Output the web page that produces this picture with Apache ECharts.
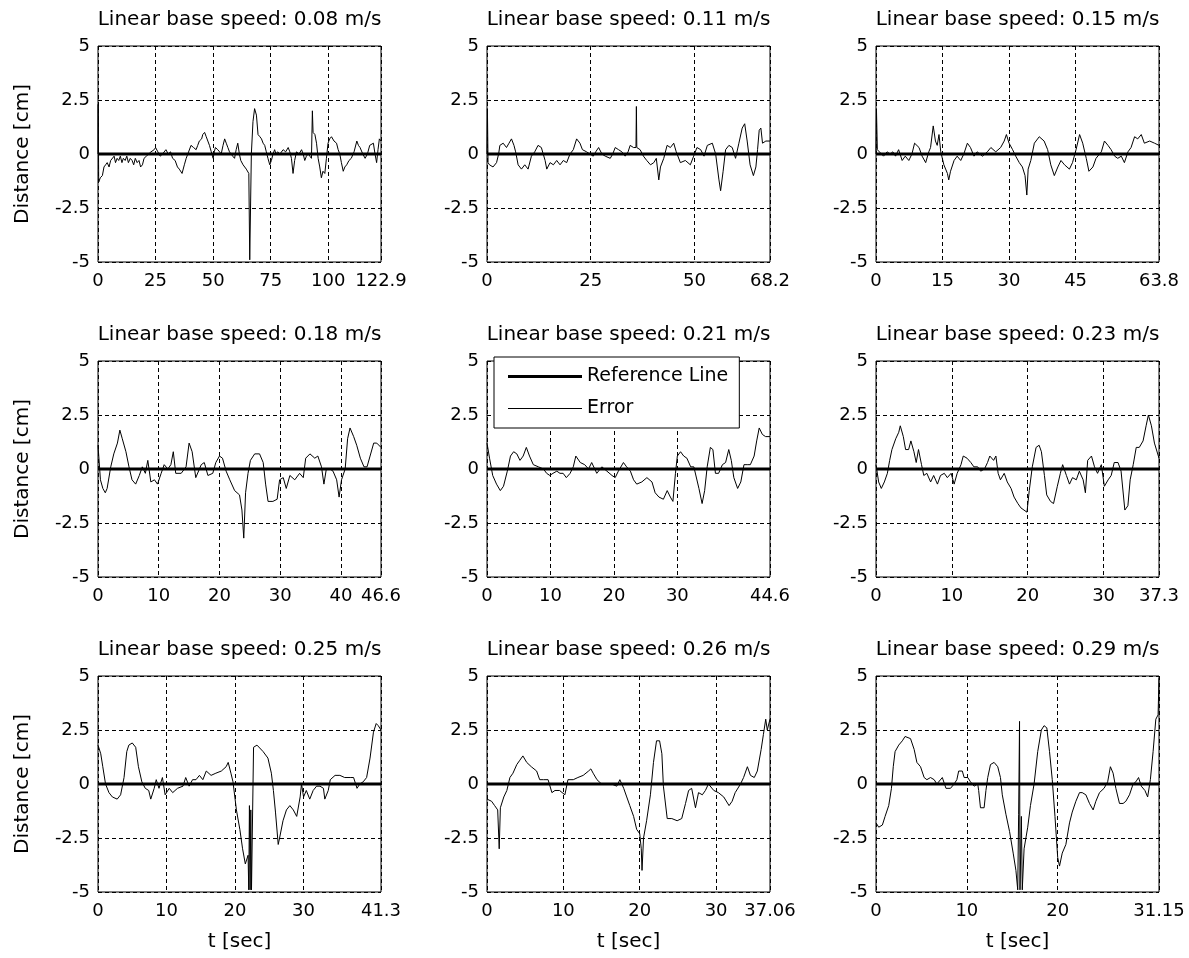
<!DOCTYPE html>
<html>
<head>
<meta charset="utf-8">
<title>Tracking error per linear base speed</title>
<script src="https://cdn.jsdelivr.net/npm/echarts@6.0.0/dist/echarts.min.js"></script>
<style>
  html, body { margin: 0; padding: 0; background: #fff; }
  #chart { width: 1189px; height: 958px; }
</style>
</head>
<body>
<div id="chart"></div>
<script>
// one panel per base speed
const speeds = ['0.08', '0.11', '0.15', '0.18', '0.21', '0.23', '0.25', '0.26', '0.29'];
const tEnd = [122.9, 68.2, 63.8, 46.6, 44.6, 37.3, 41.3, 37.06, 31.15];
const xTicks = [
  [0, 25, 50, 75, 100, 122.9],
  [0, 25, 50, 68.2],
  [0, 15, 30, 45, 63.8],
  [0, 10, 20, 30, 40, 46.6],
  [0, 10, 20, 30, 44.6],
  [0, 10, 20, 30, 37.3],
  [0, 10, 20, 30, 41.3],
  [0, 10, 20, 30, 37.06],
  [0, 10, 20, 31.15]
];
const yTicks = [-5, -2.5, 0, 2.5, 5];

// error traces [t, cm]
const err1 = [[0,0],[0.1,2.3],[0.3,-1.3],[1,-1.1],[1.9,-1.0],[2.6,-0.6],[3.3,-0.5],[4,-0.4],[4.8,-0.6],[5.5,-0.3],[6.2,-0.3],[7,-0.1],[7.6,-0.4],[8.3,-0.2],[9,-0.3],[9.7,-0.1],[10.4,-0.4],[11,-0.2],[11.8,-0.3],[12.5,-0.1],[13.2,-0.4],[14,-0.2],[14.8,-0.3],[15.5,-0.5],[16.2,-0.2],[17,-0.4],[17.8,-0.3],[18.5,-0.6],[19.3,-0.5],[20,-0.2],[21,-0.1],[22,0],[23,0.1],[24.4,0.2],[25,0.3],[26,0.1],[27,-0.1],[28,0],[29.5,0.2],[30.5,0],[31.5,0.1],[32.4,-0.2],[33.5,-0.3],[34.5,-0.6],[35.3,-0.7],[36.5,-0.9],[37.5,-0.5],[38.3,-0.2],[39,0],[40.4,0.4],[41.5,0.3],[42.6,0.2],[43.3,0.4],[44,0.6],[45,0.7],[45.5,0.9],[46.3,1.0],[47,0.8],[47.7,0.6],[48.4,0.4],[49.2,0.1],[50,-0.2],[50.5,0.1],[51,0.3],[52,0.2],[52.8,0.1],[53.5,0],[54.3,0.4],[55,0.7],[55.7,0.5],[56.4,0.3],[57.1,0.1],[57.8,0],[58.5,-0.1],[59.3,-0.2],[60,0.2],[60.7,0.5],[61.4,0],[62,-0.3],[63,-0.5],[64.4,-0.7],[65.5,-0.9],[65.9,-4.9],[66.3,-4.9],[66.6,0],[67.3,1.5],[68,2.1],[68.8,1.8],[69.5,0.9],[70.3,0.8],[71,0.7],[71.7,0.5],[72.4,0.4],[73.1,0.1],[73.8,-0.2],[74.6,-0.5],[75.3,-0.3],[76,0],[76.7,0.2],[77.3,0],[78,0.1],[79,0],[80.4,0.2],[81.5,0.1],[82.6,0.3],[83.3,0.1],[84,-0.2],[84.7,-0.9],[85.4,-0.3],[86.2,0.1],[87.3,0],[88.4,0.2],[89.1,0],[89.8,-0.3],[90.5,-0.1],[91.3,0],[92,-0.1],[92.7,-0.2],[93.1,2.0],[93.4,1.0],[94.2,0.9],[94.9,0.5],[95.6,-0.2],[96.3,-0.6],[97,-1.1],[97.7,-0.8],[98.5,-0.9],[99.2,-0.2],[99.9,0.5],[100.6,0.7],[101.4,0.8],[102.5,0.6],[103.6,0.5],[104.3,0.2],[105,0],[105.7,-0.4],[106.5,-0.8],[107.2,-0.6],[108,-0.5],[109,-0.3],[110,-0.2],[111.2,0.1],[112.4,0.6],[113.1,0.4],[113.8,0.3],[115,0],[116,-0.2],[117,0],[118,0.4],[119.6,0.5],[120.3,0],[121,-0.4],[121.6,0.2],[122.2,0.7],[122.9,0.6]];
const err2 = [[0,0],[0.1,2.1],[0.25,-0.4],[0.6,-0.5],[1.45,-0.6],[2.3,-0.4],[2.8,0],[3.1,0.4],[3.9,0.5],[4.7,0.3],[5.3,0.5],[5.9,0.7],[6.5,0.4],[6.9,0.1],[7.5,-0.5],[8.3,-0.7],[9.1,-0.5],[9.9,-0.7],[10.7,-0.1],[11.5,0.1],[12.3,0.4],[13.1,0.3],[14,-0.3],[14.4,-0.7],[15.2,-0.4],[16,-0.5],[16.8,-0.3],[17.6,-0.5],[18.4,-0.3],[19.2,-0.4],[20,0],[20.8,0.2],[21.6,0.7],[22.4,0.5],[23,0.2],[24,0.1],[24.8,0],[25.6,-0.1],[26.2,0.1],[26.9,0.3],[27.7,0],[28.5,-0.1],[29.7,-0.2],[30.3,0],[30.9,0.3],[31.7,0.2],[32.5,0.1],[33.3,-0.1],[34,0.1],[34.5,0.4],[35.3,0.3],[35.9,0.3],[36,2.2],[36.1,0.3],[36.9,0.2],[37.7,-0.1],[38.5,-0.3],[39.4,-0.5],[40.2,-0.4],[40.8,-0.2],[41.4,-1.2],[41.8,-0.6],[42.6,-0.2],[43.4,0.4],[44.2,0.3],[45,0.5],[45.6,0.1],[46.6,-0.4],[47.8,-0.3],[49,-0.5],[49.8,-0.1],[50.6,0.3],[51.5,0.2],[52.3,-0.1],[53.1,0.4],[54.3,0.5],[55.1,0],[55.9,-1.2],[56.3,-1.7],[56.9,-0.8],[57.5,0.2],[58.3,0.4],[59.1,0.3],[59.9,-0.2],[60.7,0.5],[61.5,1.2],[62.1,1.4],[62.7,0.6],[63.4,-0.5],[64.2,-1.0],[64.8,-0.6],[65.2,0.2],[65.6,1.1],[66,1.2],[66.4,0.5],[67.2,0.6],[68.2,0.6]];
const err3 = [[0,0],[0.1,2.1],[0.3,0.2],[0.6,0.2],[1.7,-0.1],[2.5,0.1],[3.2,0],[3.8,0.1],[4.4,-0.1],[5.1,0.2],[5.9,-0.3],[6.6,-0.1],[7.4,-0.3],[8.1,0],[8.7,0.5],[9.7,0.3],[10.4,-0.1],[11.2,-0.4],[11.9,0.1],[12.3,0.3],[12.9,1.3],[13.4,0.6],[13.8,0.4],[14.2,0.9],[14.6,0.1],[15.3,-0.5],[16.1,-0.9],[16.4,-1.2],[16.8,-0.8],[17.6,-0.3],[18.3,-0.1],[19.1,-0.3],[19.8,0],[20.6,0.5],[21.3,0.3],[22.1,-0.1],[22.8,0.1],[24,-0.1],[25.1,0.1],[25.9,0.3],[27,0.1],[28.1,0.3],[28.9,0.6],[29.4,0.9],[30,0.5],[30.8,0.2],[31.5,-0.1],[32.3,-0.4],[33,-0.6],[33.6,-1.0],[34,-1.9],[34.3,-0.7],[34.9,-0.3],[35.7,0.5],[36.8,0.8],[37.9,0.6],[38.7,0.2],[39.4,-0.5],[40.2,-1.0],[41,-0.6],[41.7,-0.3],[42.5,-0.5],[43.6,-0.7],[44.3,-0.4],[45.1,0.2],[45.9,0.9],[46.6,0.5],[47.4,-0.2],[48,-0.8],[48.9,-0.6],[49.6,-0.2],[50.8,0.1],[51.5,0.6],[52.3,0.4],[53,0.2],[53.8,-0.1],[54.5,-0.2],[55.3,-0.1],[56,-0.4],[56.8,0.1],[57.5,0.3],[58.3,0.8],[59,0.7],[59.8,0.9],[60.5,0.5],[61.7,0.6],[62.8,0.5],[63.8,0.4]];
const err4 = [[0,1.1],[0.4,-0.5],[0.8,-0.9],[1.2,-1.1],[1.5,-0.9],[2.1,0.1],[2.6,0.7],[3.2,1.2],[3.6,1.8],[4,1.4],[4.6,0.8],[5.1,0.1],[5.6,-0.5],[6.2,-0.7],[6.8,-0.3],[7.3,0.1],[7.8,-0.2],[8.2,0.4],[8.7,-0.6],[9.3,-0.5],[9.8,-0.7],[10.4,-0.2],[10.9,0.2],[11.5,0],[12,0.2],[12.4,0.8],[12.8,-0.2],[13.7,-0.2],[14.5,0.1],[15,1.2],[15.5,0.8],[16.1,-0.4],[17,0.2],[17.5,0.3],[18.1,-0.3],[18.9,-0.2],[19.4,0.3],[20,0.6],[20.5,0.5],[21.1,-0.1],[21.7,-0.5],[22.5,-1.0],[23.3,-1.2],[23.7,-1.9],[24,-3.2],[24.3,-1.1],[24.7,-0.2],[25.1,0.4],[25.8,0.7],[26.6,0.7],[27.2,0.3],[27.6,-0.7],[28,-1.5],[28.8,-1.5],[29.5,-1.4],[29.9,-0.5],[30.5,-0.4],[31,-0.9],[31.6,-0.3],[32.4,-0.5],[33.2,-0.2],[33.8,-0.4],[34.2,0.5],[34.9,0.7],[35.7,0.5],[36.2,0.6],[36.8,0.1],[37.2,-0.7],[37.6,0],[38.2,0],[38.7,-0.1],[39.3,-0.5],[39.7,-1.3],[40.1,-0.5],[40.7,0],[41.1,1.4],[41.5,1.9],[42.1,1.5],[42.6,1.1],[43.2,0.5],[43.8,0.1],[44.3,0.1],[44.8,0.6],[45.4,1.2],[45.9,1.2],[46.6,1.0]];
const err5 = [[0,1.2],[0.4,0.5],[0.9,-0.3],[1.5,-0.7],[2.1,-1.0],[2.6,-0.8],[3.2,-0.1],[3.7,0.6],[4.2,0.8],[4.7,0.7],[5.2,0.4],[5.7,0.6],[6.2,1.0],[6.7,0.6],[7.3,0.2],[8.1,0.1],[8.9,0],[9.4,-0.2],[9.9,-0.3],[10.4,-0.2],[11,-0.1],[11.5,-0.2],[12,-0.2],[12.5,-0.4],[13.1,-0.2],[13.6,0.1],[14,0.6],[14.7,0.3],[15.4,0.2],[16,0],[16.5,0.3],[17.3,-0.2],[18.1,0.1],[18.9,-0.1],[19.7,-0.3],[20.2,-0.4],[20.7,-0.1],[21.5,0.3],[22,0.1],[22.6,-0.1],[23.1,-0.5],[23.6,-0.7],[24.4,-0.6],[25.2,-0.4],[26,-0.6],[26.5,-1.1],[27.1,-1.3],[27.8,-1.4],[28.4,-1.0],[28.9,-1.3],[29.3,-1.5],[29.7,-0.2],[30,0.6],[30.5,0.8],[31,0.6],[31.5,0.5],[32.1,0.1],[32.6,0.1],[33.4,-0.9],[33.9,-1.6],[34.3,-1.0],[34.7,0.1],[35.2,1.0],[35.6,0.9],[36,-0.2],[36.5,-0.2],[37.1,0.2],[37.6,0.3],[38.1,0.9],[38.5,0.4],[38.9,-0.4],[39.5,-0.9],[40,-0.6],[40.5,0.2],[41,0.2],[41.5,0.2],[42.1,0.6],[42.5,1.3],[42.9,1.9],[43.4,1.6],[43.9,1.5],[44.6,1.5]];
const err6 = [[0,0.2],[0.35,-0.6],[0.7,-0.9],[1.1,-0.6],[1.5,-0.2],[1.8,0.4],[2.1,0.9],[2.6,1.4],[3,1.7],[3.2,2.0],[3.6,1.5],[3.9,0.9],[4.3,0.9],[4.6,1.3],[5,0.8],[5.3,0.3],[5.6,0.9],[6,0.2],[6.3,-0.3],[6.7,-0.2],[7.2,-0.6],[7.6,-0.3],[8.1,-0.7],[8.5,-0.3],[9,-0.2],[9.4,-0.4],[9.9,-0.2],[10.3,-0.7],[10.7,-0.2],[11.2,0.2],[11.5,0.6],[12,0.5],[12.5,0.3],[12.9,0.1],[13.4,0.1],[13.8,-0.1],[14.3,0],[14.7,0.3],[15,0.6],[15.5,0.4],[15.8,0.6],[16.1,-0.2],[16.4,-0.5],[16.9,-0.2],[17.3,-0.6],[17.8,-0.9],[18.2,-1.3],[18.7,-1.6],[19.1,-1.8],[19.5,-1.9],[19.9,-2.0],[20.2,-1.0],[20.6,0.1],[21.1,1.0],[21.5,1.1],[21.8,0.8],[22.2,-0.3],[22.5,-1.2],[23,-1.5],[23.4,-1.6],[23.9,-0.8],[24.3,-0.2],[24.6,0.2],[25.1,-0.3],[25.5,-0.7],[25.9,-0.4],[26.4,-0.5],[26.8,-0.1],[27.3,-0.5],[27.6,-1.1],[27.9,0.4],[28.4,0.6],[28.8,0.1],[29.2,-0.2],[29.7,0.2],[30.1,-0.8],[30.6,-0.5],[31,-0.3],[31.4,0.3],[31.9,0.3],[32.3,-0.1],[32.8,-1.9],[33.2,-1.7],[33.5,-0.5],[33.9,0.2],[34.3,1.0],[34.7,1.0],[35.2,1.3],[35.6,2.0],[35.9,2.5],[36.3,2.0],[36.7,1.2],[37.3,0.5]];
const err7 = [[0,1.8],[0.4,1.4],[0.7,0.8],[1.1,0],[1.6,-0.4],[2.1,-0.6],[2.8,-0.7],[3.3,-0.5],[3.8,0.3],[4.2,1.5],[4.5,1.8],[5,1.9],[5.5,1.7],[5.9,0.8],[6.4,0.1],[6.9,-0.2],[7.4,-0.3],[7.7,-0.7],[8.2,-0.2],[8.5,0.2],[8.9,-0.2],[9.4,0.3],[9.8,-0.5],[10.4,-0.2],[10.9,-0.4],[11.6,-0.2],[12.4,-0.1],[12.8,0.3],[13.3,-0.1],[13.8,0.2],[14.3,0.2],[14.8,0.4],[15.3,0.2],[15.8,0.6],[16.5,0.4],[17.2,0.5],[18,0.6],[18.7,0.8],[19,1.0],[19.4,0.5],[19.7,0.1],[20.2,-1.2],[20.7,-2.1],[21.1,-3.0],[21.5,-3.7],[21.9,-3.3],[22,-4.9],[22.1,-1.0],[22.2,-4.9],[22.3,-1.2],[22.4,-4.9],[22.7,1.7],[23.2,1.8],[24.1,1.5],[24.8,1.2],[25.3,0.5],[25.6,-0.3],[25.9,-1.3],[26.3,-2.8],[26.5,-2.5],[27,-1.7],[27.5,-1.2],[28,-1.0],[28.5,-1.2],[29,-1.5],[29.5,-0.6],[29.7,0],[30,-0.6],[30.4,-0.3],[30.9,-0.7],[31.4,-0.3],[31.9,-0.1],[32.4,-0.1],[32.9,-0.2],[33.1,-0.7],[33.6,-0.3],[33.9,0.2],[34.6,0.4],[35.3,0.4],[36,0.3],[36.8,0.3],[37.3,0.3],[37.8,-0.2],[38.2,0],[38.7,0.1],[39.2,0.3],[39.7,1.2],[40.2,2.4],[40.6,2.8],[40.9,2.7],[41.3,2.5]];
const err8 = [[0,-0.7],[0.6,-0.8],[1,-1.0],[1.4,-1.2],[1.6,-3.0],[1.75,-1.1],[2.2,-0.6],[2.6,-0.3],[3,0.3],[3.4,0.5],[3.9,0.9],[4.3,1.1],[4.7,1.3],[5.2,1.0],[5.8,0.8],[6.5,0.6],[6.9,0.2],[7.4,0.2],[8,0.2],[8.5,-0.4],[8.9,-0.3],[9.5,-0.3],[10.2,-0.5],[10.6,0.2],[11.3,0.2],[11.9,0.3],[12.6,0.4],[13.3,0.6],[13.6,0.7],[13.9,0.5],[14.4,0.2],[15,0],[15.7,0],[16.3,0],[17,-0.1],[17.4,0.2],[17.9,-0.2],[18.3,-0.6],[18.7,-1.0],[19.2,-1.5],[19.6,-2.1],[20,-2.3],[20.2,-3.0],[20.3,-4.0],[20.5,-2.5],[20.9,-1.7],[21.4,-0.5],[21.8,1.0],[22.2,2.0],[22.6,2.0],[22.9,1.4],[23.1,-0.1],[23.6,-1.6],[24.2,-1.6],[24.9,-1.7],[25.5,-1.6],[26,-0.9],[26.4,-0.3],[26.8,-0.2],[27.3,-1.1],[27.7,-0.4],[28.2,-0.5],[28.6,-0.3],[29,0],[29.7,-0.3],[30.3,-0.4],[31,-0.6],[31.7,-1.0],[32.1,-0.8],[32.5,-0.4],[33.2,0],[33.6,0.3],[34.1,0.8],[34.5,0.4],[35,0.3],[35.4,0.6],[35.9,1.6],[36.2,2.3],[36.5,3.0],[36.7,2.5],[37.06,3.0]];
const err9 = [[0,-1.8],[0.3,-2.0],[0.7,-1.9],[1,-1.5],[1.4,-1.0],[1.7,-0.2],[1.9,0.8],[2.1,1.5],[2.5,1.8],[2.9,2.0],[3.2,2.2],[3.8,2.1],[4.2,1.6],[4.5,1.0],[4.9,0.8],[5.3,0.3],[5.6,0.2],[6,0.3],[6.4,0.2],[6.7,0],[7.3,0.3],[7.7,-0.2],[8.2,-0.2],[8.6,0],[8.9,0.2],[9.1,0.6],[9.5,0.6],[9.7,0.3],[10.1,0.3],[10.4,0.1],[10.8,-0.1],[11.2,0],[11.3,-0.3],[11.5,-1.1],[11.9,-1.1],[12.1,-0.3],[12.3,0.3],[12.6,0.9],[13,1.0],[13.4,0.8],[13.7,0.3],[13.9,-0.5],[14.3,-1.4],[14.7,-2.2],[15.1,-3.2],[15.4,-4.0],[15.6,-4.9],[15.7,-1.4],[15.8,2.9],[15.85,-4.9],[16,-1.5],[16.1,-4.9],[16.3,-3.0],[16.7,-2.0],[17,-1.0],[17.4,0],[17.8,1.5],[18.2,2.5],[18.5,2.7],[18.8,2.6],[19.1,1.5],[19.4,0.2],[19.7,-1.5],[20,-3.4],[20.2,-3.8],[20.5,-3.2],[20.9,-2.8],[21.3,-1.8],[21.6,-1.3],[22,-0.8],[22.4,-0.4],[22.7,-0.4],[23.1,-0.5],[23.5,-0.9],[23.9,-1.2],[24.2,-0.8],[24.6,-0.4],[25.1,-0.2],[25.5,0.1],[25.8,0.8],[26.1,0.5],[26.4,-0.2],[26.8,-0.9],[27.2,-0.9],[27.5,-0.8],[27.9,-0.5],[28.3,0],[28.6,0.1],[28.9,0.3],[29.2,-0.1],[29.6,-0.3],[29.9,-0.6],[30.2,0.2],[30.5,1.5],[30.8,3.0],[31.05,3.2],[31.15,4.9]];
const errors = [err1, err2, err3, err4, err5, err6, err7, err8, err9];

// panel placement (px)
const gridLeft = [98, 487, 876];
const gridTop = [46, 361, 676];
const titleTop = [10, 325, 640];
const gridW = 283, gridH = 216;
const font = 'DejaVu Sans';
const dash = { color: '#000', width: 1, type: [4, 3] };

const grid = [], xAxis = [], yAxis = [], series = [], title = [];

speeds.forEach((s, i) => {
  const row = Math.floor(i / 3), col = i % 3;
  grid.push({
    left: gridLeft[col], top: gridTop[row], width: gridW, height: gridH,
    show: true, borderColor: '#000', borderWidth: 1
  });
  title.push({
    text: 'Linear base speed: ' + s + ' m/s',
    left: gridLeft[col] + gridW / 2, top: titleTop[row],
    textAlign: 'center', padding: 0,
    textStyle: { fontFamily: font, fontSize: 20, fontWeight: 'normal', color: '#000', lineHeight: 20 }
  });
  xAxis.push({
    type: 'value', gridIndex: i, min: 0, max: tEnd[i],
    axisLine: { show: false },
    axisTick: { show: false, customValues: xTicks[i] },
    axisLabel: {
      customValues: xTicks[i], margin: 10, color: '#000',
      fontFamily: font, fontSize: 18, formatter: v => String(v)
    },
    splitLine: { show: true, lineStyle: dash },
    name: row === 2 ? 't [sec]' : '',
    nameLocation: 'middle', nameGap: 40,
    nameTextStyle: { fontFamily: font, fontSize: 20, color: '#000' }
  });
  yAxis.push({
    type: 'value', gridIndex: i, min: -5, max: 5, interval: 2.5,
    axisLine: { show: false },
    axisTick: { show: false, customValues: yTicks },
    axisLabel: { customValues: yTicks, margin: 8, color: '#000', fontFamily: font, fontSize: 18 },
    splitLine: { show: true, lineStyle: dash },
    name: col === 0 ? 'Distance [cm]' : '',
    nameLocation: 'middle', nameGap: 65, nameRotate: 90,
    nameTextStyle: { fontFamily: font, fontSize: 20, color: '#000' }
  });
  series.push({
    name: 'Error', type: 'line', xAxisIndex: i, yAxisIndex: i,
    data: errors[i], symbol: 'none', showSymbol: false,
    lineStyle: { color: '#000', width: 1 }, itemStyle: { color: '#000' },
    z: 2
  });
  series.push({
    name: 'Reference Line', type: 'line', xAxisIndex: i, yAxisIndex: i,
    data: [[0, 0], [tEnd[i], 0]], symbol: 'none', showSymbol: false,
    lineStyle: { color: '#000', width: 3 }, itemStyle: { color: '#000' },
    z: 3
  });
});

const chart = echarts.init(document.getElementById('chart'));
chart.setOption({
  animation: false,
  backgroundColor: '#fff',
  title: title,
  grid: grid,
  xAxis: xAxis,
  yAxis: yAxis,
  legend: {
    // flat bars as icons so the two line weights show like in the plot
    data: [
      { name: 'Reference Line', icon: 'path://M0,0H74V3H0Z' },
      { name: 'Error', icon: 'path://M0,0H74V1H0Z' }
    ],
    orient: 'vertical', left: 494, top: 357,
    itemWidth: 74, itemHeight: 20, itemGap: 13,
    padding: [10, 11, 10, 14],
    backgroundColor: '#fff', borderColor: '#000', borderWidth: 1, borderRadius: 0,
    selectedMode: false,
    itemStyle: { color: '#000', borderWidth: 0 },
    textStyle: { fontFamily: font, fontSize: 19, color: '#000' }
  },
  series: series
});
</script>
</body>
</html>
